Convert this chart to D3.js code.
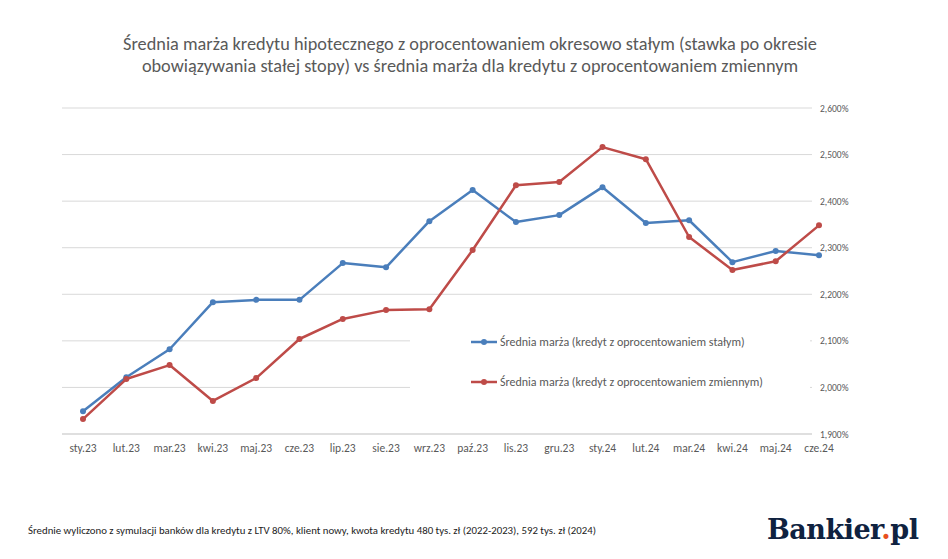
<!DOCTYPE html>
<html><head><meta charset="utf-8">
<script src="https://cdn.jsdelivr.net/npm/d3@7"></script>
<style>body{margin:0;background:#fff}text{font-family:Calibri,Carlito,"Liberation Sans",sans-serif}</style>
</head><body><div id="chart"></div>
<script>
var months = ["sty.23","lut.23","mar.23","kwi.23","maj.23","cze.23","lip.23","sie.23","wrz.23","paź.23","lis.23","gru.23","sty.24","lut.24","mar.24","kwi.24","maj.24","cze.24"];
var fixedRate = [1.949,2.022,2.082,2.183,2.188,2.188,2.267,2.258,2.357,2.424,2.355,2.370,2.430,2.353,2.359,2.269,2.293,2.284];
var variableRate = [1.932,2.018,2.048,1.971,2.020,2.104,2.147,2.166,2.168,2.295,2.434,2.441,2.516,2.490,2.323,2.252,2.271,2.348];
var yTicks = [1.9,2.0,2.1,2.2,2.3,2.4,2.5,2.6];

var svg = d3.select("#chart").append("svg").attr("width",948).attr("height",559);

svg.append("text").attr("x",470).attr("y",50).attr("text-anchor","middle")
  .attr("font-size",18.3).attr("fill","#595959")
  .text("Średnia marża kredytu hipotecznego z oprocentowaniem okresowo stałym (stawka po okresie");
svg.append("text").attr("x",470).attr("y",72).attr("text-anchor","middle")
  .attr("font-size",18.3).attr("fill","#595959")
  .text("obowiązywania stałej stopy) vs średnia marża dla kredytu z oprocentowaniem zmiennym");

var x = d3.scalePoint().domain(months).range([83,819]);
var y = d3.scaleLinear().domain([1.9,2.6]).range([434,108]);

var g = svg.append("g");
g.selectAll("line.grid").data(yTicks).enter().append("line")
  .attr("x1",62).attr("x2",812).attr("y1",d=>y(d)).attr("y2",d=>y(d))
  .attr("stroke",d=>d===1.9?"#bfbfbf":"#d9d9d9").attr("stroke-width",1);
g.selectAll("text.yl").data(yTicks).enter().append("text")
  .attr("x",820).attr("y",d=>y(d)+3.5).attr("font-size",9.5).attr("fill","#595959")
  .text(d=>d3.format(".3f")(d).replace(".",",")+"%");
g.selectAll("text.xl").data(months).enter().append("text")
  .attr("x",d=>x(d)).attr("y",452).attr("text-anchor","middle")
  .attr("font-size",11.5).attr("fill","#595959").text(d=>d);

// legend box hides gridlines
svg.append("rect").attr("x",410).attr("y",322).attr("width",400).attr("height",78).attr("fill","#fff");

function series(vals,color){
  var line = d3.line().x((d,i)=>x(months[i])).y(d=>y(d));
  svg.append("path").datum(vals).attr("d",line).attr("fill","none")
    .attr("stroke",color).attr("stroke-width",2.5).attr("stroke-linejoin","round");
  svg.selectAll(null).data(vals).enter().append("circle")
    .attr("cx",(d,i)=>x(months[i])).attr("cy",d=>y(d)).attr("r",3).attr("fill",color);
}
series(fixedRate,"#4a7ebb");
series(variableRate,"#be4b48");

var legend = [["Średnia marża (kredyt z oprocentowaniem stałym)","#4a7ebb",342],
              ["Średnia marża (kredyt z oprocentowaniem zmiennym)","#be4b48",382]];
legend.forEach(function(l){
  svg.append("line").attr("x1",471).attr("x2",497).attr("y1",l[2]).attr("y2",l[2])
    .attr("stroke",l[1]).attr("stroke-width",2.5);
  svg.append("circle").attr("cx",484).attr("cy",l[2]).attr("r",3).attr("fill",l[1]);
  svg.append("text").attr("x",500).attr("y",l[2]+4).attr("font-size",12)
    .attr("fill","#595959").text(l[0]);
});

svg.append("text").attr("x",28).attr("y",534).attr("font-size",10.8).attr("fill","#222")
  .text("Średnie wyliczono z symulacji banków dla kredytu z LTV 80%, klient nowy, kwota kredytu 480 tys. zł (2022-2023), 592 tys. zł (2024)");

var logo = svg.append("text").attr("x",767).attr("y",539).attr("font-size",27)
  .attr("font-weight","bold").attr("fill","#0f2240").attr("letter-spacing",-0.5)
  .style("font-family","'DejaVu Serif','Liberation Serif',serif");
logo.append("tspan").text("Bankier");
logo.append("tspan").attr("fill","#e8501e").text(".");
logo.append("tspan").text("pl");
</script></body></html>
